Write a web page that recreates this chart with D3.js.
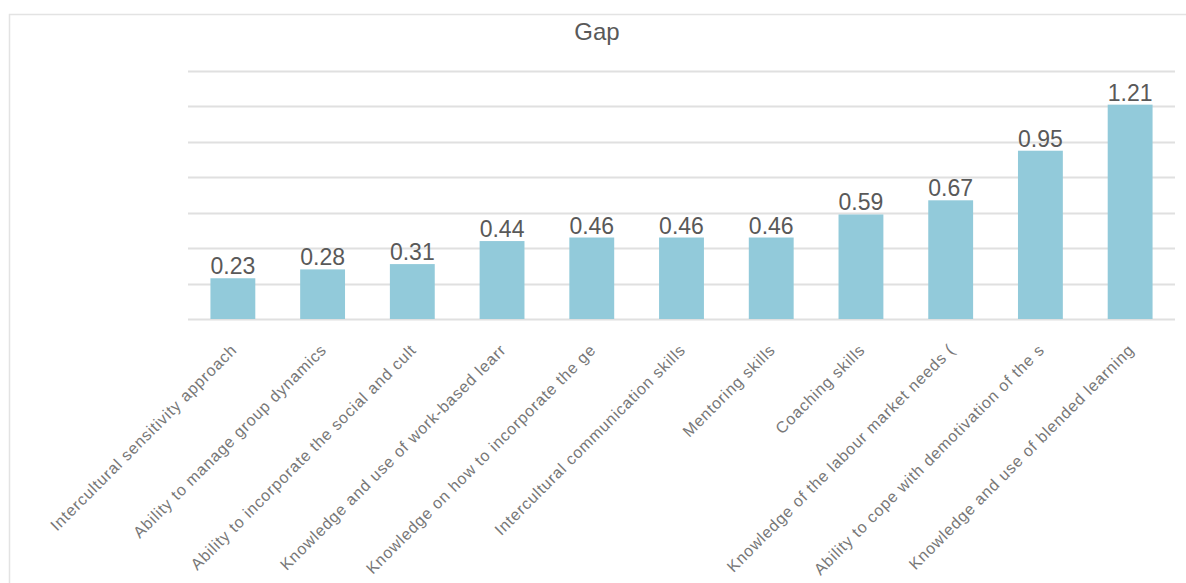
<!DOCTYPE html>
<html>
<head>
<meta charset="utf-8">
<script src="https://cdn.jsdelivr.net/npm/d3@7"></script>
<style>
  body { margin: 0; background: #fff; }
  svg { display: block; font-family: "Liberation Sans", Arial, sans-serif; }
</style>
</head>
<body>
<svg id="chart"></svg>
<script>
// labels as shown (the source truncates long ones)
const categories = [
  "Intercultural sensitivity approach",
  "Ability to manage group dynamics",
  "Ability to incorporate the social and cult",
  "Knowledge and use of work-based learr",
  "Knowledge on how to incorporate the ge",
  "Intercultural communication skills",
  "Mentoring skills",
  "Coaching skills",
  "Knowledge of the labour market needs (",
  "Ability to cope with demotivation of the s",
  "Knowledge and use of blended learning"
]
const gapValues = [0.23, 0.28, 0.31, 0.44, 0.46, 0.46, 0.46, 0.59, 0.67, 0.95, 1.21]
const gridTicks = [0, 0.2, 0.4, 0.6, 0.8, 1.0, 1.2, 1.4]

const width = 1186, height = 583
const margin = { top: 71, right: 11, bottom: 264, left: 188 }

const svg = d3.select("#chart")
  .attr("width", width)
  .attr("height", height)

// outer chart frame
svg.append("rect")
  .attr("x", 9.5).attr("y", 14.5)
  .attr("width", width).attr("height", height)
  .attr("fill", "none")
  .attr("stroke", "#e3e3e3")
  .attr("stroke-width", 1.5)

svg.append("text")
  .attr("x", 597).attr("y", 40)
  .attr("text-anchor", "middle")
  .attr("font-size", 24)
  .attr("fill", "#595959")
  .text("Gap")

const x = d3.scaleBand()
  .domain(categories)
  .range([margin.left, width - margin.right])
  .paddingInner(0.5)
  .paddingOuter(0.25)

const y = d3.scaleLinear()
  .domain([0, 1.4])
  .range([height - margin.bottom, margin.top])

// gridlines
svg.append("g")
  .selectAll("line")
  .data(gridTicks)
  .join("line")
  .attr("x1", margin.left)
  .attr("x2", width - margin.right)
  .attr("y1", d => Math.round(y(d)) + 0.5)
  .attr("y2", d => Math.round(y(d)) + 0.5)
  .attr("stroke", "#e0e0e0")
  .attr("stroke-width", 2)

svg.append("g")
  .selectAll("rect")
  .data(gapValues)
  .join("rect")
  .attr("x", (d, i) => x(categories[i]))
  .attr("width", x.bandwidth())
  .attr("y", d => y(d))
  .attr("height", d => y(0) - y(d))
  .attr("fill", "#92cada")

svg.append("g")
  .selectAll("text")
  .data(gapValues)
  .join("text")
  .attr("x", (d, i) => x(categories[i]) + x.bandwidth() / 2)
  .attr("y", d => y(d) - 4)
  .attr("text-anchor", "middle")
  .attr("font-size", 23)
  .attr("fill", "#595959")
  .text(d => d.toFixed(2))

// rotated category labels
svg.append("g")
  .selectAll("text")
  .data(categories)
  .join("text")
  .attr("transform", d => `translate(${x(d) + x.bandwidth() / 2 + 5},${y(0) + 32}) rotate(-45)`)
  .attr("text-anchor", "end")
  .attr("font-size", 16)
  .attr("letter-spacing", 0.8)
  .attr("fill", "#777")
  .text(d => d)
</script>
</body>
</html>
